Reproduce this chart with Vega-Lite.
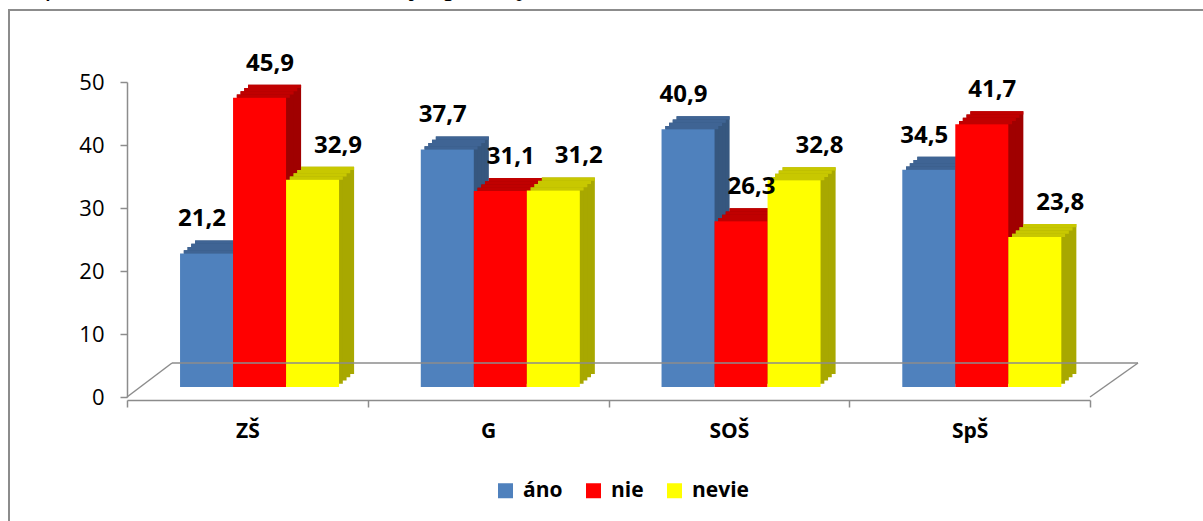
{
  "$schema": "https://vega.github.io/schema/vega-lite/v6.json",
  "width": 1197,
  "height": 514,
  "autosize": {"type": "none"},
  "padding": {"left": 9, "top": 10, "right": -3, "bottom": -3},
  "title": {"text": "Graf č. 2 – V škole sú žiaci, ktorí sympatizujú s extrémistami", "anchor": "start", "frame": "group", "font": "Liberation Serif", "fontStyle": "italic", "fontWeight": "normal", "fontSize": 30, "color": "#000000", "baseline": "alphabetic", "offset": -15, "dx": -11},
  "config": {
    "view": {"stroke": "#8c8c8c", "strokeWidth": 2},
    "locale": {"number": {"decimal": ",", "thousands": " ", "grouping": [3], "currency": ["", " €"]}}
  },
  "datasets": {
    "d": [
      {"skola": "ZŠ", "odpoved": "áno", "hodnota": 21.2},
      {"skola": "ZŠ", "odpoved": "nie", "hodnota": 45.9},
      {"skola": "ZŠ", "odpoved": "nevie", "hodnota": 32.9},
      {"skola": "G", "odpoved": "áno", "hodnota": 37.7},
      {"skola": "G", "odpoved": "nie", "hodnota": 31.1},
      {"skola": "G", "odpoved": "nevie", "hodnota": 31.2},
      {"skola": "SOŠ", "odpoved": "áno", "hodnota": 40.9},
      {"skola": "SOŠ", "odpoved": "nie", "hodnota": 26.3},
      {"skola": "SOŠ", "odpoved": "nevie", "hodnota": 32.8},
      {"skola": "SpŠ", "odpoved": "áno", "hodnota": 34.5},
      {"skola": "SpŠ", "odpoved": "nie", "hodnota": 41.7},
      {"skola": "SpŠ", "odpoved": "nevie", "hodnota": 23.8}
    ],
    "one": [{"k": 1}]
  },
  "resolve": {"scale": {"fill": "independent", "xOffset": "independent"}},
  "layer": [
    {
      "data": {"name": "d"},
      "encoding": {
        "x": {"field": "skola", "type": "nominal", "sort": ["ZŠ", "G", "SOŠ", "SpŠ"],
          "scale": {"range": [118, 1081], "paddingInner": 0, "paddingOuter": 0},
          "axis": {"title": null, "orient": "bottom", "offset": -124, "tickBand": "extent", "labelAngle": 0,
            "domainColor": "#8c8c8c", "domainWidth": 1.5, "tickColor": "#8c8c8c", "tickWidth": 1.5, "tickSize": 7,
            "labelFont": "Open Sans", "labelFontWeight": "bold", "labelFontSize": 21, "labelColor": "#000000", "labelPadding": 13}},
        "y": {"field": "hodnota", "type": "quantitative",
          "scale": {"domain": [0, 50], "range": [387, 72], "nice": false},
          "axis": {"title": null, "values": [0, 10, 20, 30, 40, 50], "offset": -118, "grid": false,
            "domainColor": "#8c8c8c", "domainWidth": 1.5, "tickColor": "#8c8c8c", "tickWidth": 1.5, "tickSize": 7,
            "labelFont": "Open Sans", "labelFontSize": 22, "labelColor": "#000000", "labelPadding": 16}}
      },
      "resolve": {"scale": {"fill": "independent", "xOffset": "independent"}},
      "layer": [
        {"mark": {"type": "bar", "yOffset": -23, "y2Offset": -23},
         "encoding": {"xOffset": {"field": "odpoved", "type": "nominal", "sort": ["áno", "nie", "nevie"], "scale": {"paddingInner": 0, "paddingOuter": 0.771, "align": 0.833}},
           "fill": {"field": "odpoved", "type": "nominal", "scale": {"domain": ["áno", "nie", "nevie"], "range": ["#36577f", "#a00000", "#a8a800"]}, "legend": null}}},
        {"mark": {"type": "bar", "yOffset": -19.75, "y2Offset": -19.75},
         "encoding": {"xOffset": {"field": "odpoved", "type": "nominal", "sort": ["áno", "nie", "nevie"], "scale": {"paddingInner": 0, "paddingOuter": 0.771, "align": 0.786}},
           "fill": {"field": "odpoved", "type": "nominal", "scale": {"domain": ["áno", "nie", "nevie"], "range": ["#36577f", "#a00000", "#a8a800"]}, "legend": null}}},
        {"mark": {"type": "bar", "yOffset": -16.5, "y2Offset": -16.5},
         "encoding": {"xOffset": {"field": "odpoved", "type": "nominal", "sort": ["áno", "nie", "nevie"], "scale": {"paddingInner": 0, "paddingOuter": 0.771, "align": 0.741}},
           "fill": {"field": "odpoved", "type": "nominal", "scale": {"domain": ["áno", "nie", "nevie"], "range": ["#36577f", "#a00000", "#a8a800"]}, "legend": null}}},
        {"mark": {"type": "bar", "yOffset": -13.25, "y2Offset": -13.25},
         "encoding": {"xOffset": {"field": "odpoved", "type": "nominal", "sort": ["áno", "nie", "nevie"], "scale": {"paddingInner": 0, "paddingOuter": 0.771, "align": 0.695}},
           "fill": {"field": "odpoved", "type": "nominal", "scale": {"domain": ["áno", "nie", "nevie"], "range": ["#36577f", "#a00000", "#a8a800"]}, "legend": null}}},
        {"mark": {"type": "bar", "yOffset": -23, "y2Offset": -19.75},
         "encoding": {"xOffset": {"field": "odpoved", "type": "nominal", "sort": ["áno", "nie", "nevie"], "scale": {"paddingInner": 0, "paddingOuter": 0.771, "align": 0.833}},
           "y2": {"field": "hodnota"}, "fill": {"field": "odpoved", "type": "nominal", "scale": {"domain": ["áno", "nie", "nevie"], "range": ["#3f6494", "#c00000", "#c8c800"]}, "legend": null}}},
        {"mark": {"type": "bar", "yOffset": -19.75, "y2Offset": -16.5},
         "encoding": {"xOffset": {"field": "odpoved", "type": "nominal", "sort": ["áno", "nie", "nevie"], "scale": {"paddingInner": 0, "paddingOuter": 0.771, "align": 0.786}},
           "y2": {"field": "hodnota"}, "fill": {"field": "odpoved", "type": "nominal", "scale": {"domain": ["áno", "nie", "nevie"], "range": ["#3f6494", "#c00000", "#c8c800"]}, "legend": null}}},
        {"mark": {"type": "bar", "yOffset": -16.5, "y2Offset": -13.25},
         "encoding": {"xOffset": {"field": "odpoved", "type": "nominal", "sort": ["áno", "nie", "nevie"], "scale": {"paddingInner": 0, "paddingOuter": 0.771, "align": 0.741}},
           "y2": {"field": "hodnota"}, "fill": {"field": "odpoved", "type": "nominal", "scale": {"domain": ["áno", "nie", "nevie"], "range": ["#3f6494", "#c00000", "#c8c800"]}, "legend": null}}},
        {"mark": {"type": "bar", "yOffset": -13.25, "y2Offset": -10},
         "encoding": {"xOffset": {"field": "odpoved", "type": "nominal", "sort": ["áno", "nie", "nevie"], "scale": {"paddingInner": 0, "paddingOuter": 0.771, "align": 0.695}},
           "y2": {"field": "hodnota"}, "fill": {"field": "odpoved", "type": "nominal", "scale": {"domain": ["áno", "nie", "nevie"], "range": ["#3f6494", "#c00000", "#c8c800"]}, "legend": null}}},
        {"mark": {"type": "bar", "yOffset": -10, "y2Offset": -10},
         "encoding": {"xOffset": {"field": "odpoved", "type": "nominal", "sort": ["áno", "nie", "nevie"], "scale": {"paddingInner": 0, "paddingOuter": 0.771, "align": 0.649}},
           "color": {"field": "odpoved", "type": "nominal", "sort": ["áno", "nie", "nevie"],
           "scale": {"domain": ["áno", "nie", "nevie"], "range": ["#4f81bd", "#ff0000", "#ffff00"]},
           "legend": {"orient": "none", "legendX": 486, "legendY": 470, "direction": "horizontal", "title": null,
             "symbolType": "square", "symbolSize": 225, "symbolStrokeWidth": 0, "labelFont": "Open Sans", "labelFontWeight": "bold",
             "labelFontSize": 21, "labelColor": "#000000", "labelOffset": 7, "columnPadding": 20, "padding": 0}}}},
        {"mark": {"type": "text", "dx": 7, "dy": -44, "baseline": "middle", "font": "Open Sans", "fontWeight": "bold", "fontSize": 24, "color": "#000000"},
         "encoding": {"xOffset": {"field": "odpoved", "type": "nominal", "sort": ["áno", "nie", "nevie"], "scale": {"paddingInner": 0, "paddingOuter": 0.771, "align": 0.649}},
           "text": {"field": "hodnota", "type": "quantitative", "format": ".1f"}}}
      ]
    },
    {
      "data": {"name": "one"},
      "layer": [
        {"mark": {"type": "rule", "color": "#8c8c8c", "strokeWidth": 1.5, "xOffset": 45, "x2Offset": 48, "yOffset": -34},
         "encoding": {"x": {"datum": "ZŠ", "type": "nominal", "bandPosition": 0}, "x2": {"datum": "SpŠ", "bandPosition": 1}, "y": {"datum": 0, "type": "quantitative"}}},
        {"mark": {"type": "rule", "color": "#8c8c8c", "strokeWidth": 1.5, "x2Offset": 45, "y2Offset": -34},
         "encoding": {"x": {"datum": "ZŠ", "type": "nominal", "bandPosition": 0}, "x2": {"datum": "ZŠ", "bandPosition": 0}, "y": {"datum": 0, "type": "quantitative"}, "y2": {"datum": 0}}},
        {"mark": {"type": "rule", "color": "#8c8c8c", "strokeWidth": 1.5, "x2Offset": 48, "y2Offset": -34},
         "encoding": {"x": {"datum": "SpŠ", "type": "nominal", "bandPosition": 1}, "x2": {"datum": "SpŠ", "bandPosition": 1}, "y": {"datum": 0, "type": "quantitative"}, "y2": {"datum": 0}}}
      ]
    }
  ]
}
